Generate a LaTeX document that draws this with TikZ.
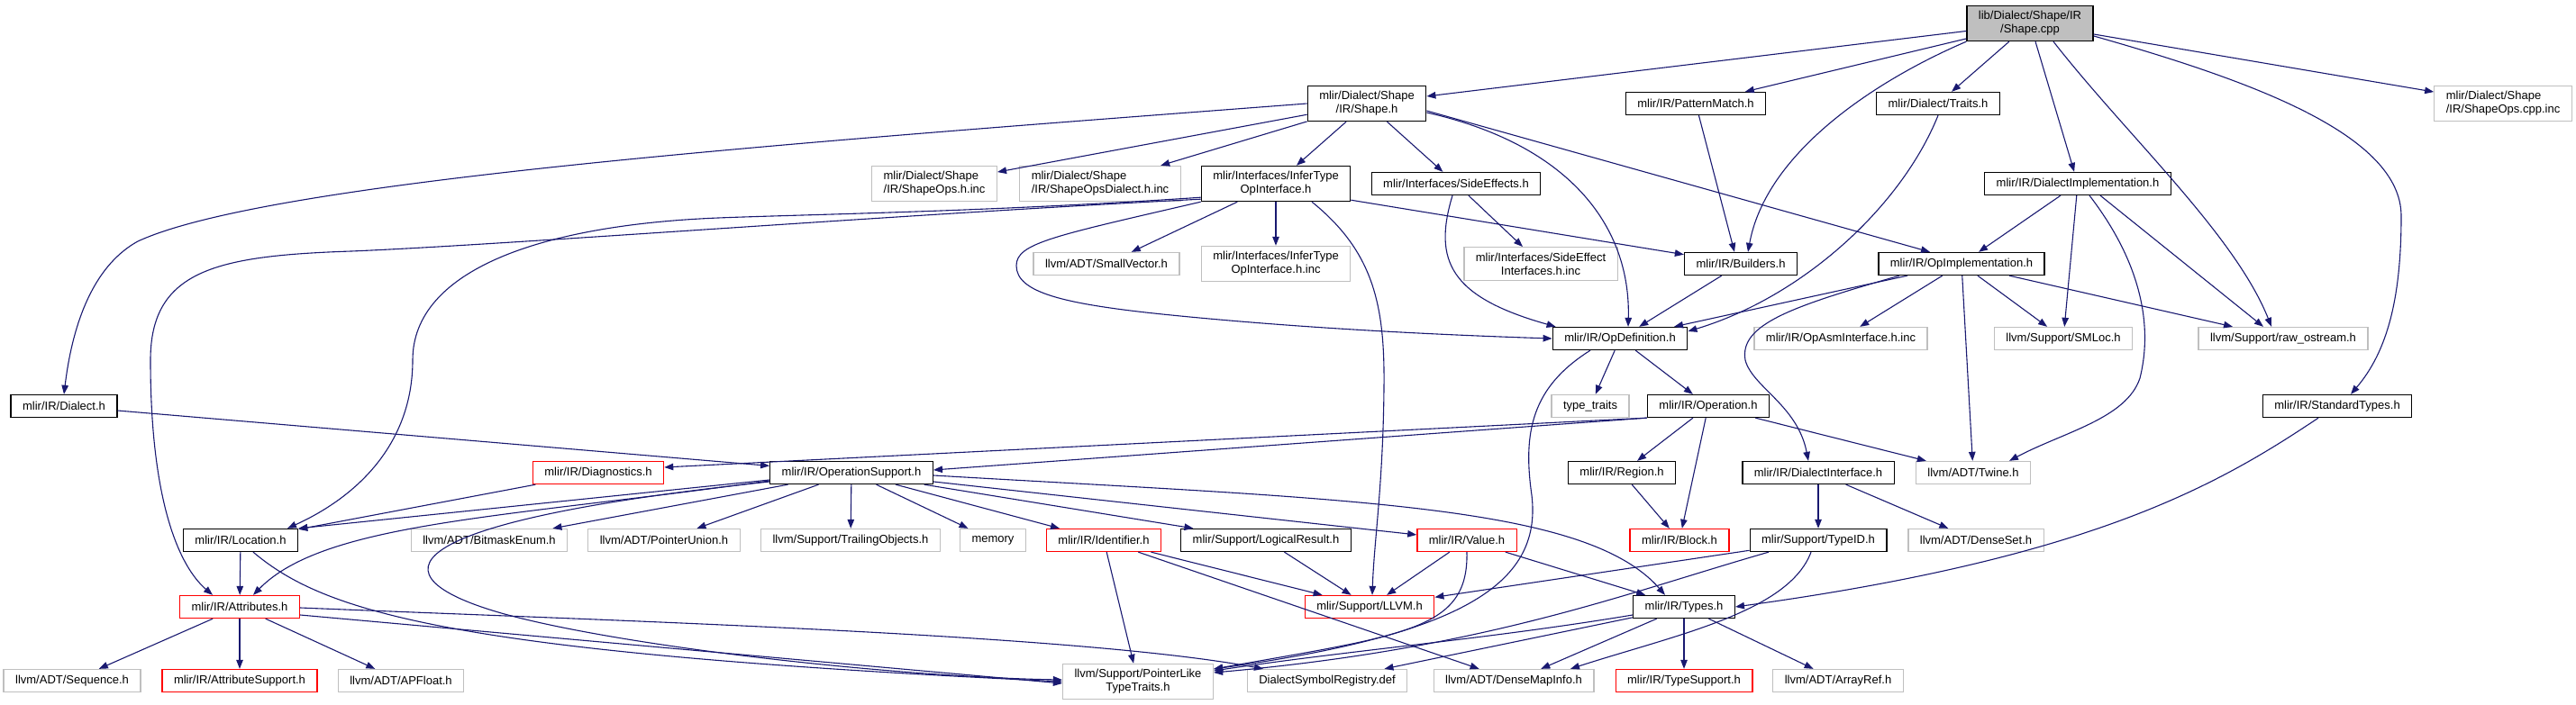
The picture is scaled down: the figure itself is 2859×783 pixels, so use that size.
\documentclass[tikz,border=0pt]{standalone}
\usepackage{fontspec}
\setmainfont{Liberation Sans}
\usetikzlibrary{arrows.meta}
\definecolor{edgeblue}{RGB}{25,25,112}
\definecolor{undoc}{RGB}{191,191,191}
\begin{document}
\begin{tikzpicture}[x=1pt, y=-1pt, every node/.style={font=\fontsize{13}{15}\selectfont},
  file/.style={draw=black,line width=1.3pt,inner xsep=13pt,inner ysep=6pt,minimum height=25pt,align=center},
  ext/.style={file,draw=undoc},
  trunc/.style={file,draw=red},
  dep/.style={edgeblue,line width=1.1pt,-{Triangle[length=10pt,width=7.5pt]}}]
\useasboundingbox (0,0) rectangle (2859,783);
% top rows
\node[file,fill=undoc] (shapecpp) at (2253,26) {lib/Dialect/Shape/IR\\/Shape.cpp};
\node[file] (shapeh) at (1517,115) {mlir/Dialect/Shape\\/IR/Shape.h};
\node[file] (patmatch) at (1882,115) {mlir/IR/PatternMatch.h};
\node[file] (traits) at (2151,115) {mlir/Dialect/Traits.h};
\node[ext,align=left] (opscppinc) at (2778,115) {mlir/Dialect/Shape\\/IR/ShapeOps.cpp.inc};
\node[ext,align=left] (opsinc) at (1037,204) {mlir/Dialect/Shape\\/IR/ShapeOps.h.inc};
\node[ext,align=left] (dialinc) at (1221,204) {mlir/Dialect/Shape\\/IR/ShapeOpsDialect.h.inc};
\node[file] (infer) at (1416,204) {mlir/Interfaces/InferType\\OpInterface.h};
\node[file] (sideeff) at (1616,204) {mlir/Interfaces/SideEffects.h};
\node[file] (dialimpl) at (2306,204) {mlir/IR/DialectImplementation.h};
\node[ext] (smallvec) at (1228,293) {llvm/ADT/SmallVector.h};
\node[ext] (inferinc) at (1416,293) {mlir/Interfaces/InferType\\OpInterface.h.inc};
\node[ext] (seinc) at (1710,293) {mlir/Interfaces/SideEffect\\Interfaces.h.inc};
\node[file] (builders) at (1932,293) {mlir/IR/Builders.h};
\node[file] (opimpl) at (2177,293) {mlir/IR/OpImplementation.h};
\node[file] (opdef) at (1798,376) {mlir/IR/OpDefinition.h};
\node[ext] (asminc) at (2043,376) {mlir/IR/OpAsmInterface.h.inc};
\node[ext] (smloc) at (2290,376) {llvm/Support/SMLoc.h};
\node[ext] (rawos) at (2534,376) {llvm/Support/raw\_ostream.h};
% middle rows
\node[file] (dialect) at (71,451) {mlir/IR/Dialect.h};
\node[ext] (typetr) at (1765,451) {type\_traits};
\node[file] (operation) at (1896,451) {mlir/IR/Operation.h};
\node[file] (stdtypes) at (2594,451) {mlir/IR/StandardTypes.h};
\node[trunc] (diag) at (664,525) {mlir/IR/Diagnostics.h};
\node[file] (opsupp) at (945,525) {mlir/IR/OperationSupport.h};
\node[file] (region) at (1800,525) {mlir/IR/Region.h};
\node[file] (dialiface) at (2018,525) {mlir/IR/DialectInterface.h};
\node[ext] (twine) at (2190,525) {llvm/ADT/Twine.h};
\node[file] (location) at (267,600) {mlir/IR/Location.h};
\node[ext] (bitmask) at (543,600) {llvm/ADT/BitmaskEnum.h};
\node[ext] (ptrunion) at (737,600) {llvm/ADT/PointerUnion.h};
\node[ext] (trailing) at (944,600) {llvm/Support/TrailingObjects.h};
\node[ext] (memory) at (1102,600) {memory};
\node[trunc] (identifier) at (1225,600) {mlir/IR/Identifier.h};
\node[file] (logres) at (1405,600) {mlir/Support/LogicalResult.h};
\node[trunc] (value) at (1628,600) {mlir/IR/Value.h};
\node[trunc] (block) at (1864,600) {mlir/IR/Block.h};
\node[file] (typeid) at (2018,600) {mlir/Support/TypeID.h};
\node[ext] (denseset) at (2193,600) {llvm/ADT/DenseSet.h};
% bottom rows
\node[trunc] (attrs) at (266,674) {mlir/IR/Attributes.h};
\node[trunc] (llvm) at (1520,674) {mlir/Support/LLVM.h};
\node[file] (types) at (1869,674) {mlir/IR/Types.h};
\node[ext] (sequence) at (80,756) {llvm/ADT/Sequence.h};
\node[trunc] (attrsupp) at (266,756) {mlir/IR/AttributeSupport.h};
\node[ext] (apfloat) at (445,756) {llvm/ADT/APFloat.h};
\node[ext] (ptrlike) at (1263,757) {llvm/Support/PointerLike\\TypeTraits.h};
\node[ext] (symreg) at (1473,756) {DialectSymbolRegistry.def};
\node[ext] (densemap) at (1680,756) {llvm/ADT/DenseMapInfo.h};
\node[trunc] (typesupp) at (1869,756) {mlir/IR/TypeSupport.h};
\node[ext] (arrayref) at (2040,756) {llvm/ADT/ArrayRef.h};
% Shape.cpp
\draw[dep] (shapecpp) -- (shapeh);
\draw[dep] (shapecpp) -- (patmatch);
\draw[dep] (shapecpp.south west) .. controls (2080,90) and (1960,170) .. ([xshift=8pt]builders.north);
\draw[dep] (shapecpp) -- (traits);
\draw[dep] (shapecpp) -- (dialimpl);
\draw[dep] ([xshift=26pt]shapecpp.south) .. controls (2360,150) and (2480,260) .. ([xshift=-13pt]rawos.north);
\draw[dep] (shapecpp) -- (opscppinc);
\draw[dep] ([yshift=-14pt]shapecpp.east) .. controls (2500,90) and (2665,150) .. (2665,240) .. controls (2665,330) and (2650,390) .. ([xshift=15pt]stdtypes.north);
% Shape.h
\draw[dep] (shapeh.west) .. controls (900,157) and (300,200) .. (153,268) .. controls (95,300) and (78,380) .. (dialect.north);
\draw[dep] (shapeh) -- (opsinc);
\draw[dep] (shapeh) -- (dialinc);
\draw[dep] (shapeh) -- (infer);
\draw[dep] (shapeh) -- (sideeff);
\draw[dep] ([yshift=-10pt]shapeh.east) .. controls (1740,160) and (1810,250) .. ([xshift=9pt]opdef.north);
\draw[dep] ([yshift=-8pt]shapeh.east) -- ([xshift=-35pt]opimpl.north);
\draw[dep] (patmatch) -- ([xshift=-7pt]builders.north);
\draw[dep] (traits.south) .. controls (2110,230) and (2000,330) .. ([yshift=8pt]opdef.east);
% InferTypeOpInterface.h
\draw[dep] ([yshift=3pt]infer.south west) .. controls (1000,238) and (560,272) .. (390,279) .. controls (240,284) and (167,300) .. (167,400) .. controls (167,560) and (200,630) .. ([xshift=-30pt]attrs.north);
\draw[dep] ([yshift=5pt]infer.south west) .. controls (1100,235) and (900,238) .. (797,242) .. controls (600,250) and (458,300) .. (458,400) .. controls (458,490) and (400,550) .. ([xshift=52pt]location.north);
\draw[dep] (infer.south west) .. controls (1170,262) and (1128,270) .. (1128,295) .. controls (1128,325) and (1180,338) .. (1300,350) .. controls (1450,365) and (1600,372) .. (opdef.west);
\draw[dep] (infer) -- (smallvec);
\draw[dep] (infer) -- (inferinc);
\draw[dep] ([xshift=40pt]infer.south) .. controls (1525,280) and (1537,340) .. (1536,430) .. controls (1535,540) and (1525,600) .. ([xshift=3pt]llvm.north);
\draw[dep] ([yshift=2pt]infer.south east) -- (builders);
\draw[dep] (sideeff) -- (seinc);
\draw[dep] ([xshift=-4pt]sideeff.south) .. controls (1590,290) and (1610,330) .. ([xshift=4pt]opdef.north west);
\draw[dep] (builders) -- (opdef);
% DialectImplementation.h and OpImplementation.h
\draw[dep] (dialimpl) -- (opimpl);
\draw[dep] (dialimpl) -- (smloc);
\draw[dep] ([xshift=25pt]dialimpl.south) -- ([xshift=-22pt]rawos.north);
\draw[dep] ([xshift=13pt]dialimpl.south) .. controls (2375,290) and (2390,360) .. (2375,420) .. controls (2360,465) and (2290,480) .. ([xshift=40pt]twine.north);
\draw[dep] ([xshift=-60pt]opimpl.south) -- ([xshift=60pt]opdef.north);
\draw[dep] ([xshift=-69pt]opimpl.south) .. controls (1990,340) and (1930,360) .. (1937,400) .. controls (1945,430) and (1995,450) .. ([xshift=-11pt]dialiface.north);
\draw[dep] (opimpl) -- (asminc);
\draw[dep] (opimpl) -- (smloc);
\draw[dep] ([xshift=53pt]opimpl.south) -- ([xshift=-56pt]rawos.north);
\draw[dep] (opimpl) -- (twine);
% OpDefinition.h and Operation.h
\draw[dep] (opdef) -- (typetr);
\draw[dep] (opdef) -- (operation);
\draw[dep] ([xshift=-33pt]opdef.south) .. controls (1700,430) and (1690,480) .. (1700,550) .. controls (1712,650) and (1620,705) .. ([yshift=14pt]ptrlike.east);
\draw[dep] (operation.south west) -- ([yshift=3pt]opsupp.east);
\draw[dep] (operation.south west) -- ([yshift=6pt]diag.east);
\draw[dep] (operation) -- (region);
\draw[dep] (operation) -- (block);
\draw[dep] (operation) -- (twine);
\draw[dep] (region) -- (block);
\draw[dep] (dialect) -- (opsupp);
\draw[dep] (diag) -- (location);
% OperationSupport.h
\draw[dep] ([yshift=-8pt]opsupp.west) -- (location.north east);
\draw[dep] ([yshift=-9pt]opsupp.west) .. controls (560,575) and (360,580) .. ([xshift=15pt]attrs.north);
\draw[dep] ([yshift=-10pt]opsupp.west) .. controls (430,580) and (410,640) .. (560,682) .. controls (700,720) and (1000,752) .. ([yshift=2pt]ptrlike.west);
\draw[dep] (opsupp) -- (bitmask);
\draw[dep] (opsupp) -- (ptrunion);
\draw[dep] (opsupp) -- (trailing);
\draw[dep] (opsupp) -- (memory);
\draw[dep] (opsupp) -- (identifier);
\draw[dep] (opsupp) -- (logres);
\draw[dep] (opsupp) -- (value);
\draw[dep] ([yshift=-3pt]opsupp.east) .. controls (1500,555) and (1760,560) .. ([xshift=-21pt]types.north);
% Location.h and Attributes.h
\draw[dep] (location) -- (attrs);
\draw[dep] ([xshift=14pt]location.south) .. controls (360,680) and (500,725) .. (ptrlike.west);
\draw[dep] (attrs) -- (sequence);
\draw[dep] (attrs) -- (attrsupp);
\draw[dep] (attrs) -- (apfloat);
\draw[dep] ([yshift=-1pt]attrs.east) .. controls (700,690) and (1200,705) .. ([xshift=-71pt]symreg.north);
\draw[dep] ([yshift=-9pt]attrs.east) -- ([yshift=-2pt]ptrlike.west);
% Identifier.h, LogicalResult.h, Value.h
\draw[dep] (identifier) -- (ptrlike);
\draw[dep] (identifier) -- (llvm);
\draw[dep] (identifier) -- (densemap);
\draw[dep] (logres) -- (llvm);
\draw[dep] (value) -- (llvm);
\draw[dep] (value) -- (types);
\draw[dep] (value.south) .. controls (1630,700) and (1560,705) .. ([yshift=14pt]ptrlike.east);
% Types.h
\draw[dep] ([yshift=-9pt]types.west) .. controls (1650,710) and (1500,722) .. ([yshift=12pt]ptrlike.east);
\draw[dep] (types) -- (symreg);
\draw[dep] (types) -- (densemap);
\draw[dep] (types) -- (typesupp);
\draw[dep] (types) -- (arrayref);
% TypeID.h, DialectInterface.h, StandardTypes.h
\draw[dep] (typeid) -- (llvm);
\draw[dep] ([xshift=-55pt]typeid.south) .. controls (1800,660) and (1650,720) .. ([yshift=10pt]ptrlike.east);
\draw[dep] ([xshift=-8pt]typeid.south) .. controls (1985,680) and (1860,705) .. ([xshift=63pt]densemap.north);
\draw[dep] (dialiface) -- (typeid);
\draw[dep] (dialiface) -- (denseset);
\draw[dep] ([xshift=-21pt]stdtypes.south) .. controls (2460,540) and (2320,620) .. (types.east);
\end{tikzpicture}
\end{document}
